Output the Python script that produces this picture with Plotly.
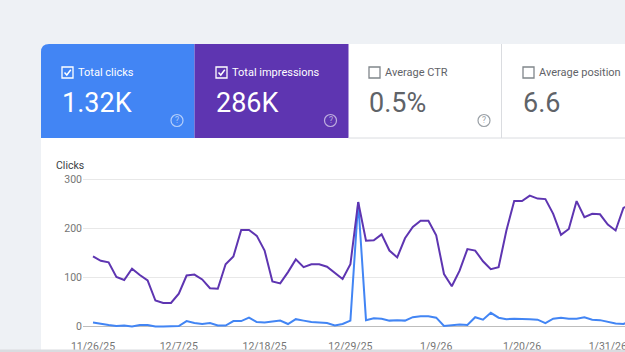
import pandas as pd
import plotly.graph_objects as go

# ---------------- data ----------------
start_date = "2025-11-26"
clicks = [8, 5, 3, 1, 2, 0, 3, 3, 0, 0, 0, 1, 11, 7, 5, 7, 2, 2, 11, 11, 18, 9,
          8, 10, 12, 5, 15, 12, 9, 8, 7, 2, 5, 12, 254, 13, 17, 16, 12, 13, 12, 19, 21, 21, 18, 1,
          3, 4, 3, 19, 14, 28, 18, 15, 16, 16, 15, 14, 7, 16, 18, 16, 16, 19, 14, 13, 9, 6, 5, 12]
impressions = [2860, 2680, 2620, 2020, 1900, 2360, 2100, 1880, 1060, 960, 960, 1340, 2080, 2120, 1920, 1560, 1540, 2540, 2860, 3940, 3940, 3700,
               3100, 1840, 1760, 2220, 2740, 2420, 2540, 2540, 2440, 2200, 1940, 2540, 5080, 3500, 3520, 3760, 3100, 2820, 3600, 4060, 4320, 4320, 3720, 2140,
               1640, 2280, 3160, 3100, 2660, 2340, 2420, 3920, 5120, 5120, 5340, 5220, 5200, 4600, 3740, 3980, 5120, 4460, 4600, 4580, 4160, 3920, 4840, 5000]
dates = pd.date_range(start_date, periods=len(clicks), freq="D")
tick_dates = ["2025-11-26", "2025-12-07", "2025-12-18", "2025-12-29", "2026-01-09", "2026-01-20", "2026-01-31"]
y_ticks = [0, 100, 200, 300]

tile_labels = ["Total clicks", "Total impressions", "Average CTR", "Average position"]
tile_values = ["1.32K", "286K", "0.5%", "6.6"]

# ---------------- geometry helpers ----------------
W, H = 625, 352
def X(px): return px / W
def Y(py): return 1 - py / H

BLUE = "#4285f4"
PURPLE = "#5e35b1"
GRAY_TXT = "#5f6368"
FONT = "Roboto"

t0 = pd.Timestamp(start_date)
px_per_day = 7.8
x_left = t0 + pd.Timedelta(days=(83 - 93) / px_per_day)
x_right = t0 + pd.Timedelta(days=(625 - 93) / px_per_day)

fig = go.Figure()
fig.add_trace(go.Scatter(x=dates, y=impressions, mode="lines", yaxis="y2",
                         line=dict(color=PURPLE, width=2), hoverinfo="skip"))
fig.add_trace(go.Scatter(x=dates, y=clicks, mode="lines",
                         line=dict(color=BLUE, width=2), hoverinfo="skip"))

shapes = []
# white card with rounded top-left corner
shapes.append(dict(type="path", xref="paper", yref="paper", layer="below",
                   path=f"M {X(41)},{Y(352)} L {X(41)},{Y(52)} Q {X(41)},{Y(44)} {X(49)},{Y(44)} L {X(625)},{Y(44)} L {X(625)},{Y(352)} Z",
                   fillcolor="white", line=dict(width=0)))
# blue tile
shapes.append(dict(type="path", xref="paper", yref="paper", layer="below",
                   path=f"M {X(41)},{Y(138)} L {X(41)},{Y(52)} Q {X(41)},{Y(44)} {X(49)},{Y(44)} L {X(194.5)},{Y(44)} L {X(194.5)},{Y(138)} Z",
                   fillcolor=BLUE, line=dict(width=0)))
# purple tile
shapes.append(dict(type="rect", xref="paper", yref="paper", layer="below",
                   x0=X(194.5), x1=X(348.5), y0=Y(138), y1=Y(44),
                   fillcolor=PURPLE, line=dict(width=0)))
# divider and separator lines
shapes.append(dict(type="line", xref="paper", yref="paper", layer="below",
                   x0=X(501.5), x1=X(501.5), y0=Y(44), y1=Y(138), line=dict(color="#dadce0", width=1)))
shapes.append(dict(type="line", xref="paper", yref="paper", layer="below",
                   x0=X(348.5), x1=X(625), y0=Y(138), y1=Y(138), line=dict(color="#dadce0", width=1)))
# bottom band
shapes.append(dict(type="rect", xref="paper", yref="paper", layer="above",
                   x0=0, x1=1, y0=0, y1=Y(349.5), fillcolor="#dadce0", line=dict(width=0)))

annotations = []
def ann(text, xpx, ypx, size, color, xanchor="left"):
    annotations.append(dict(text=text, x=X(xpx), y=Y(ypx), xref="paper", yref="paper",
                            xanchor=xanchor, yanchor="middle", showarrow=False,
                            font=dict(family=FONT, size=size, color=color)))

box_x = [62, 216, 369, 523]
checked = [True, True, False, False]
txt_colors = ["white", "white", GRAY_TXT, GRAY_TXT]
for i in range(4):
    bx = box_x[i]
    shapes.append(dict(type="rect", xref="paper", yref="paper",
                       x0=X(bx), x1=X(bx + 11), y0=Y(78), y1=Y(67),
                       line=dict(color="white" if checked[i] else "#80868b", width=1.3),
                       fillcolor="rgba(0,0,0,0)"))
    if checked[i]:
        shapes.append(dict(type="path", xref="paper", yref="paper",
                           path=f"M {X(bx+2.5)},{Y(72.5)} L {X(bx+4.8)},{Y(75)} L {X(bx+8.8)},{Y(69.8)}",
                           line=dict(color="white", width=1.5)))
    ann(tile_labels[i], bx + 14, 72.5, 11, txt_colors[i])
    ann(tile_values[i], bx - 2, 102.5, 27, txt_colors[i])

# help icons
for cx, col in [(177, "rgba(255,255,255,0.6)"), (330.5, "rgba(255,255,255,0.6)"), (484, "#9aa0a6")]:
    shapes.append(dict(type="circle", xref="paper", yref="paper",
                       x0=X(cx - 6), x1=X(cx + 6), y0=Y(126.5), y1=Y(114.5),
                       line=dict(color=col, width=1.2)))
    ann("?", cx, 120.5, 8.5, col, xanchor="center")

ann("Clicks", 54, 165, 10.5, "#3c4043")

fig.update_layout(
    template="none",
    width=W, height=H,
    margin=dict(l=0, r=0, t=0, b=0, pad=0, autoexpand=False),
    paper_bgcolor="#eef1f5",
    plot_bgcolor="white",
    showlegend=False,
    shapes=shapes,
    annotations=annotations,
    font=dict(family=FONT),
    xaxis=dict(domain=[X(83), 1], type="date", range=[x_left, x_right],
               tickvals=tick_dates, tickformat="%-m/%-d/%y", automargin=False,
               ticklabeloverflow="allow", ticklabelstandoff=2,
               showgrid=False, zeroline=False, showline=False, ticks="",
               tickfont=dict(family=FONT, size=10.5, color="#757575")),
    yaxis=dict(domain=[Y(336), Y(170)], range=[-19.4, 319.4], automargin=False,
               tickvals=y_ticks, showgrid=True, gridcolor="#e8e8e8", gridwidth=1,
               zeroline=True, zerolinecolor="#bdbdbd", zerolinewidth=1,
               showline=False, ticks="",
               tickfont=dict(family=FONT, size=10.5, color="#757575")),
    yaxis2=dict(overlaying="y", side="right", range=[-388, 6388], automargin=False,
                showgrid=False, zeroline=False, showticklabels=False, ticks=""),
)

fig.write_html("out.html")
